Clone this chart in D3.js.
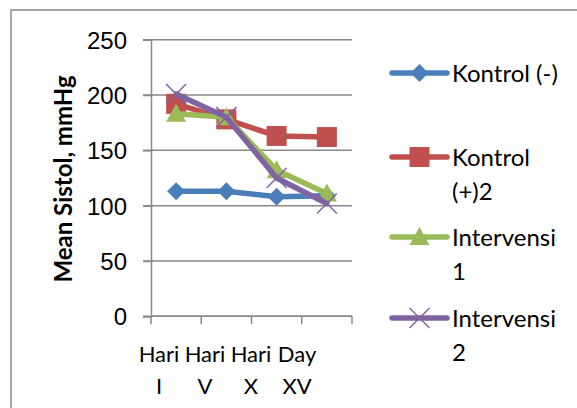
<!DOCTYPE html>
<html>
<head>
<meta charset="utf-8">
<script src="https://cdn.jsdelivr.net/npm/d3@7"></script>
<style>
  body { margin: 0; background: #fff; }
  svg { display: block; font-family: Lato, "Open Sans", sans-serif; }
</style>
</head>
<body>
<svg id="chart"></svg>
<script>
const categories = [["Hari", "I"], ["Hari", "V"], ["Hari", "X"], ["Day", "XV"]];
const yTicks = [0, 50, 100, 150, 200, 250];
const seriesNames = [["Kontrol (-)"], ["Kontrol", "(+)2"], ["Intervensi", "1"], ["Intervensi", "2"]];
const kontrolMin = [113, 113, 108, 109];
const kontrolPlus = [192, 178, 163, 162];
const intervensi1 = [183, 180, 132, 111];
const intervensi2 = [201, 180, 125, 102];

const colors = ["#4a7ebb", "#c0504d", "#9bbb59", "#8064a2"];
const symbols = ["diamond", "square", "triangle", "cross"];
const allSeries = [kontrolMin, kontrolPlus, intervensi1, intervensi2];

const width = 577, height = 408;
const margin = { top: 39.7, left: 151, right: 225, bottom: 91.7 };
const plotW = width - margin.left - margin.right;
const plotH = height - margin.top - margin.bottom;

const svg = d3.select("#chart").attr("width", width).attr("height", height);

// outer frame
svg.append("rect")
  .attr("x", 11).attr("y", 10)
  .attr("width", 600).attr("height", 420)
  .attr("fill", "none")
  .attr("stroke", "#888").attr("stroke-width", 1.5);

const g = svg.append("g").attr("transform", `translate(${margin.left},${margin.top})`);

const x = d3.scaleBand().domain(d3.range(categories.length)).range([0, plotW]);
const y = d3.scaleLinear().domain([0, 250]).range([plotH, 0]);
// wrapped category labels sit a bit tighter than the data columns
const xLabel = d3.scaleBand().domain(d3.range(categories.length)).range([-15, 169]);

// gridlines
g.append("g")
  .selectAll("line")
  .data(yTicks)
  .enter()
  .append("line")
  .attr("x1", -8).attr("x2", plotW)
  .attr("y1", d => y(d)).attr("y2", d => y(d))
  .attr("stroke", "#888").attr("stroke-width", 1.5);

// y axis
const yAxis = g.append("g")
  .call(d3.axisLeft(y).tickValues(yTicks).tickSize(8).tickPadding(16));
yAxis.select(".domain").attr("stroke", "#888").attr("stroke-width", 1.5);
yAxis.selectAll(".tick line").attr("stroke", "#888").attr("stroke-width", 1.5);
yAxis.selectAll("text")
  .style("font-size", "24px")
  .style("fill", "#000")
  .attr("dy", "0.36em");

// x axis ticks
const xTicks = d3.range(categories.length + 1).map(i => i * x.bandwidth());
g.append("line")
  .attr("x1", 0).attr("x2", plotW)
  .attr("y1", plotH).attr("y2", plotH)
  .attr("stroke", "#888").attr("stroke-width", 1.5);
g.append("g")
  .selectAll("line")
  .data(xTicks)
  .enter()
  .append("line")
  .attr("x1", d => d).attr("x2", d => d)
  .attr("y1", plotH).attr("y2", plotH + 8)
  .attr("stroke", "#888").attr("stroke-width", 1.5);

// x labels, two lines each
const xl = g.append("g")
  .selectAll("text")
  .data(categories)
  .enter()
  .append("text")
  .attr("text-anchor", "middle")
  .style("font-size", "22px")
  .style("fill", "#000");
xl.append("tspan")
  .attr("x", (d, i) => xLabel(i) + xLabel.bandwidth() / 2)
  .attr("y", plotH + 38)
  .attr("dy", "0.36em")
  .text(d => d[0]);
xl.append("tspan")
  .attr("x", (d, i) => xLabel(i) + xLabel.bandwidth() / 2)
  .attr("y", plotH + 70)
  .attr("dy", "0.36em")
  .text(d => d[1]);

// y title
svg.append("text")
  .attr("transform", "translate(72,179) rotate(-90)")
  .attr("text-anchor", "middle")
  .style("font-size", "24px")
  .style("font-weight", "bold")
  .style("fill", "#000")
  .text("Mean Sistol, mmHg");

function drawMarker(sel, type, color) {
  if (type === "diamond") {
    sel.append("path").attr("d", "M0,-9L9,0L0,9L-9,0Z").attr("fill", color);
  } else if (type === "square") {
    sel.append("rect").attr("x", -10).attr("y", -10).attr("width", 20).attr("height", 20).attr("fill", color);
  } else if (type === "triangle") {
    sel.append("path").attr("d", "M0,-10L10,8L-10,8Z").attr("fill", color);
  } else {
    sel.append("path").attr("d", "M-10,-10L10,10M-10,10L10,-10")
      .attr("stroke", color).attr("stroke-width", 1.5).attr("fill", "none");
  }
}

const line = d3.line()
  .x((d, i) => x(i) + x.bandwidth() / 2)
  .y(d => y(d));

allSeries.forEach((vals, s) => {
  g.append("path")
    .datum(vals)
    .attr("d", line)
    .attr("fill", "none")
    .attr("stroke", colors[s])
    .attr("stroke-width", 5.5)
    .attr("stroke-linejoin", "round")
    .attr("stroke-linecap", "round");
  vals.forEach((v, i) => {
    const m = g.append("g").attr("transform", `translate(${x(i) + x.bandwidth() / 2},${y(v)})`);
    drawMarker(m, symbols[s], colors[s]);
  });
});

// legend
const legendY = [73, 157, 237, 318];
seriesNames.forEach((name, s) => {
  const lg = svg.append("g").attr("transform", `translate(392,${legendY[s]})`);
  lg.append("line")
    .attr("x1", 0).attr("x2", 55)
    .attr("stroke", colors[s]).attr("stroke-width", 5.5)
    .attr("stroke-linecap", "round");
  drawMarker(lg.append("g").attr("transform", "translate(27.5,0)"), symbols[s], colors[s]);
  const t = lg.append("text")
    .style("font-size", "24px")
    .style("fill", "#000");
  name.forEach((part, k) => {
    t.append("tspan").attr("x", 60).attr("y", k * 34).attr("dy", "0.36em").text(part);
  });
});
</script>
</body>
</html>
